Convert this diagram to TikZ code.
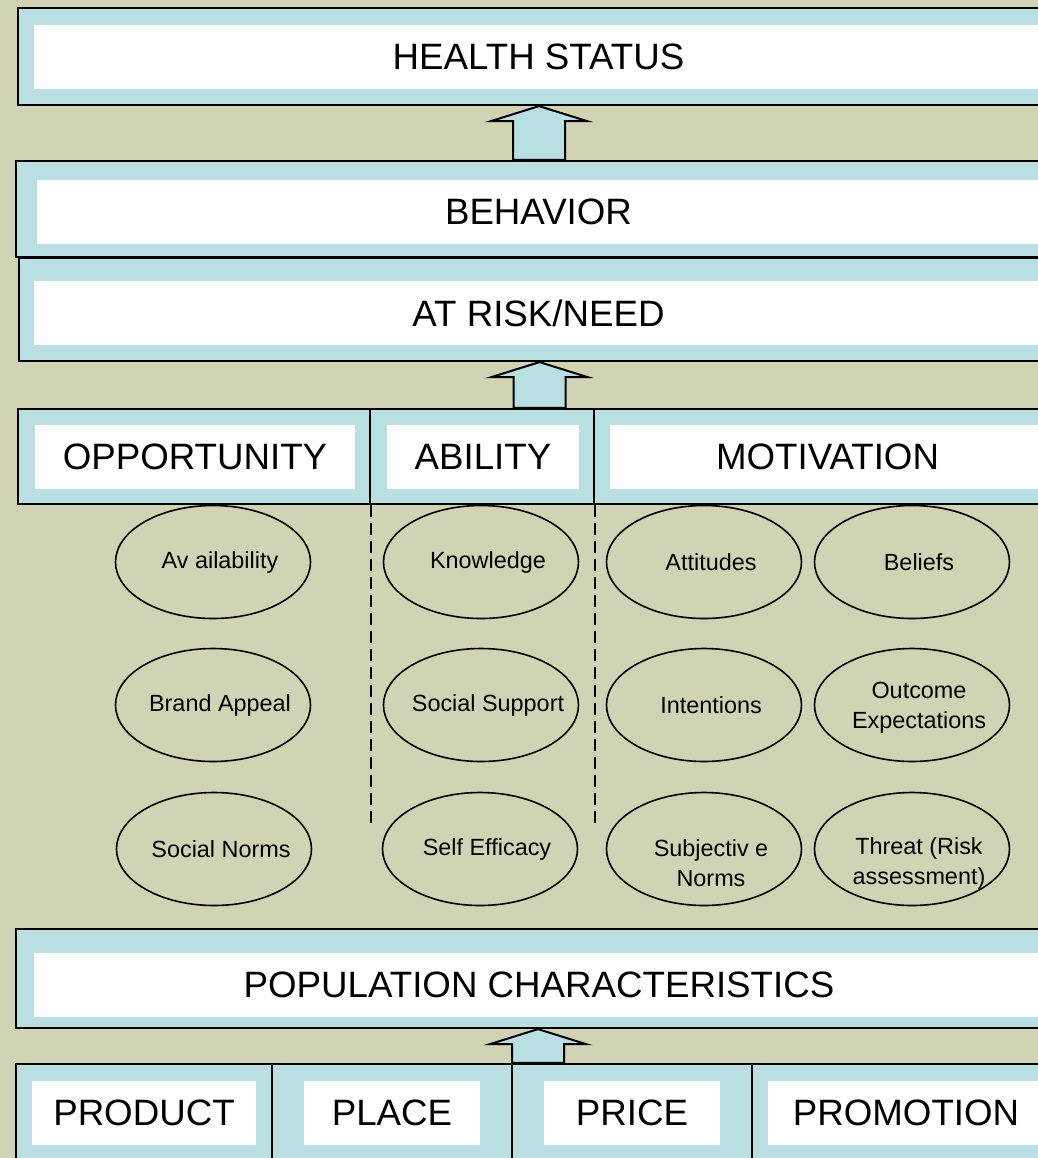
\documentclass[tikz,border=0pt]{standalone}
\usepackage{fontspec}
\setmainfont{Liberation Sans}
\usetikzlibrary{calc,fit,shapes.geometric}

\definecolor{bgtan}{RGB}{210,210,180}
\definecolor{paleblue}{RGB}{185,223,226}

\tikzset{
  band/.style={draw=black, line width=1.1pt, fill=paleblue, inner sep=0pt},
  tag/.style={fill=white, inner sep=0pt},
  tagtext/.style={font=\fontsize{18.35}{22}\selectfont},
  oval/.style={ellipse, draw=black, line width=0.8pt, inner sep=0pt,
    minimum width=97.5pt, minimum height=56.5pt},
  ovaltext/.style={font=\fontsize{11.7}{15}\selectfont, align=center, xshift=3.5pt},
  blockarrow/.style={draw=black, line width=1pt, fill=paleblue, line join=miter},
  divider/.style={line width=0.8pt, dash pattern=on 6pt off 3pt},
}

% 空心箭头: #1 下方方框, #2 上方方框
\newcommand\upblock[2]{%
  \coordinate (tip) at (#2.south);
  \coordinate (foot) at (#1.north -| tip);
  \draw[blockarrow] (tip) -- ($(tip)+(48,15)$) -- ($(tip)+(26,15)$) -- ($(foot)+(26,0)$)
    -- ($(foot)+(-26,0)$) -- ($(tip)+(-26,15)$) -- ($(tip)+(-48,15)$) -- cycle;
}

\begin{document}
\begin{tikzpicture}[x=0.5pt, y=-0.5pt]
	% 背景
	\clip (0,0) rectangle (1038,1158);
	\fill[bgtan] (0,0) rectangle (1038,1158);
	
	% 上方三层
	\node[band, fit={(18,8) (1060,105)}] (health) {};
	\node[tag, fit={(34,25) (1043,89)}, label={[tagtext]center:HEALTH STATUS}] (healthtag) {};
	\node[band, fit={(19,258) (1060,361)}] (risk) {};
	\node[tag, fit={(34,281) (1043,345)}, label={[tagtext]center:AT RISK/NEED}] (risktag) {};
	\node[band, fit={(16,161) (1060,257)}] (behavior) {};
	\node[tag, fit={(37,180) (1040,244)}, label={[tagtext]center:BEHAVIOR}] (behaviortag) {};
	
	% 中间一排
	\node[band, fit={(18,409) (370,504)}] (opp) {};
	\node[tag, fit={(35,425) (355,489)}, label={[tagtext]center:OPPORTUNITY}] (opptag) {};
	\node[band, fit={(370,409) (594,504)}] (ability) {};
	\node[tag, fit={(387,425) (579,489)}, label={[tagtext]center:ABILITY}] (abilitytag) {};
	\node[band, fit={(594,409) (1060,504)}] (motiv) {};
	\node[tag, fit={(610,425) (1045,489)}, label={[tagtext]center:MOTIVATION}] (motivtag) {};
	
	% 分隔虚线
	\coordinate (dashend) at (0,823);
	\draw[divider] (opp.south east) -- (opp.south east |- dashend);
	\draw[divider] (ability.south east) -- (ability.south east |- dashend);
	
	% 椭圆
	\node[oval, label={[ovaltext]center:Av ailability}] (avail) at (213,562) {};
	\node[oval, label={[ovaltext]center:Brand Appeal}] (brand) at (213,705) {};
	\node[oval, label={[ovaltext]center:Social Norms}] (norms) at (214,849) {};
	\node[oval, label={[ovaltext]center:Knowledge}] (know) at (481,562) {};
	\node[oval, label={[ovaltext]center:Social Support}] (support) at (481,705) {};
	\node[oval, label={[ovaltext]center:Self Efficacy}] (efficacy) at (480,849) {};
	\node[oval, label={[ovaltext]center:Attitudes}] (attitude) at (704,562) {};
	\node[oval, label={[ovaltext]center:Intentions}] (intent) at (704,705) {};
	\node[oval, label={[ovaltext,yshift=-7pt]center:Subjectiv e\\Norms}] (subj) at (704,849) {};
	\node[oval, label={[ovaltext]center:Beliefs}] (belief) at (912,562) {};
	\node[oval, label={[ovaltext,yshift=-1.5pt]center:Outcome\\Expectations}] (outcome) at (912,705) {};
	\node[oval, label={[ovaltext,yshift=-7pt]center:Threat (Risk\\assessment)}] (threat) at (912,849) {};
	
	% 下方两层
	\node[band, fit={(16,929) (1060,1028)}] (pop) {};
	\node[tag, fit={(34,953) (1044,1017)}, label={[tagtext]center:POPULATION CHARACTERISTICS}] (poptag) {};
	\node[band, fit={(16,1064) (272,1162)}] (product) {};
	\node[tag, fit={(32,1081) (256,1145)}, label={[tagtext]center:PRODUCT}] (producttag) {};
	\node[band, fit={(272,1064) (512,1162)}] (place) {};
	\node[tag, fit={(304,1081) (480,1145)}, label={[tagtext]center:PLACE}] (placetag) {};
	\node[band, fit={(512,1064) (752,1162)}] (price) {};
	\node[tag, fit={(544,1081) (720,1145)}, label={[tagtext]center:PRICE}] (pricetag) {};
	\node[band, fit={(752,1064) (1060,1162)}] (promo) {};
	\node[tag, fit={(768,1081) (1044,1145)}, label={[tagtext]center:PROMOTION}] (promotag) {};
	
	% 箭头
	\upblock{behavior}{health}
	\upblock{ability}{risk}
	\upblock{price}{pop}
\end{tikzpicture}
\end{document}
